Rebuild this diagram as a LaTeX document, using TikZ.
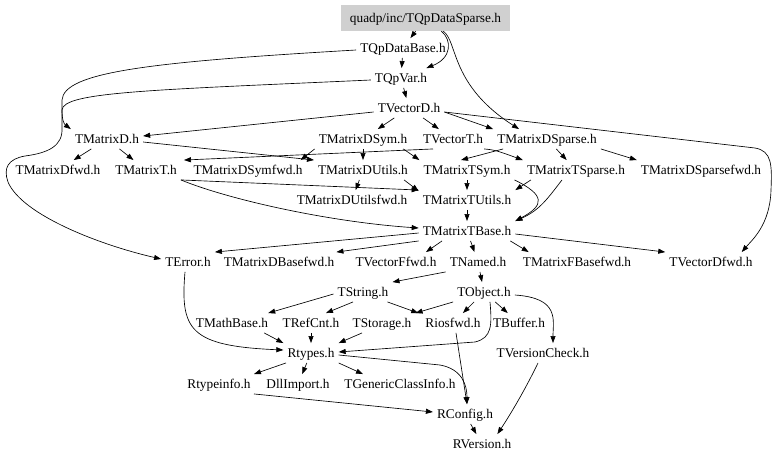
\documentclass[tikz,border=0pt]{standalone}
\usepackage{fontspec}
\setmainfont{Liberation Serif}
\usetikzlibrary{arrows.meta}
\definecolor{rootgray}{RGB}{208,208,208}
\begin{document}
\begin{tikzpicture}[x=1pt,y=-1pt,
  nd/.style={inner xsep=4pt, inner ysep=5.25pt, text height=9pt, text depth=0pt, font=\fontsize{13.3}{15}\selectfont},
  rootnd/.style={nd, fill=rootgray, minimum width=169pt, minimum height=26pt},
  edge/.style={draw=black, line width=0.65pt, -{Triangle[length=7pt,width=5pt]}}]
\useasboundingbox[fill=white] (0,0) rectangle (779,461);
% nodes
\node[rootnd] (root) at (425.5,18) {quadp/inc/TQpDataSparse.h};
\node[nd] (qpbase) at (403,48) {TQpDataBase.h};
\node[nd] (qpvar) at (401,78) {TQpVar.h};
\node[nd] (vecD) at (409,108) {TVectorD.h};
\node[nd] (matD) at (107,139) {TMatrixD.h};
\node[nd] (matDSym) at (363,139) {TMatrixDSym.h};
\node[nd] (vecT) at (453,139) {TVectorT.h};
\node[nd] (matDSp) at (547,139) {TMatrixDSparse.h};
\node[nd] (matDfwd) at (58,170) {TMatrixDfwd.h};
\node[nd] (matT) at (146,170) {TMatrixT.h};
\node[nd] (matDSymfwd) at (248,170) {TMatrixDSymfwd.h};
\node[nd] (matDUtils) at (363,170) {TMatrixDUtils.h};
\node[nd] (matTSym) at (467,170) {TMatrixTSym.h};
\node[nd] (matTSp) at (576,170) {TMatrixTSparse.h};
\node[nd] (matDSpfwd) at (701,170) {TMatrixDSparsefwd.h};
\node[nd] (matDUtilsfwd) at (352,200) {TMatrixDUtilsfwd.h};
\node[nd] (matTUtils) at (467,200) {TMatrixTUtils.h};
\node[nd] (matTBase) at (467,231) {TMatrixTBase.h};
\node[nd] (terror) at (188,262) {TError.h};
\node[nd] (matDBasefwd) at (279,262) {TMatrixDBasefwd.h};
\node[nd] (vecFfwd) at (396,262) {TVectorFfwd.h};
\node[nd] (tnamed) at (478,262) {TNamed.h};
\node[nd] (matFBasefwd) at (577,262) {TMatrixFBasefwd.h};
\node[nd] (vecDfwd) at (711,262) {TVectorDfwd.h};
\node[nd] (tstring) at (363,292) {TString.h};
\node[nd] (tobject) at (484,292) {TObject.h};
\node[nd] (tmathbase) at (232,323) {TMathBase.h};
\node[nd] (trefcnt) at (311,323) {TRefCnt.h};
\node[nd] (tstorage) at (382,323) {TStorage.h};
\node[nd] (riosfwd) at (453,323) {Riosfwd.h};
\node[nd] (tbuffer) at (519,323) {TBuffer.h};
\node[nd] (rtypes) at (311,353) {Rtypes.h};
\node[nd] (tversion) at (543,353) {TVersionCheck.h};
\node[nd] (rtypeinfo) at (219,384) {Rtypeinfo.h};
\node[nd] (dllimport) at (298,384) {DllImport.h};
\node[nd] (tgeneric) at (400,384) {TGenericClassInfo.h};
\node[nd] (rconfig) at (465,414) {RConfig.h};
\node[nd] (rversion) at (482,444) {RVersion.h};
% edges
\draw[edge] (root) -- (qpbase);
\draw[edge] (root) .. controls (452,40) and (452,58) .. (qpvar);
\draw[edge] (root) .. controls (458,42) and (450,85) .. ([xshift=-28pt]matDSp.north);
\draw[edge] (qpbase) -- (qpvar);
\draw[edge] ([yshift=-2pt]qpbase.west) .. controls (150,62) and (64,72) .. (62,100) -- (62,128) .. controls (63,146) and (48,153) .. (25,156) .. controls (8,159) and (3,168) .. (8,182) .. controls (22,215) and (100,245) .. ([yshift=3pt]terror.west);
\draw[edge] ([yshift=-2pt]qpvar.west) .. controls (150,90) and (63,92) .. (62,110) .. controls (62,120) and (64,124) .. (matD.north west);
\draw[edge] (qpvar) -- (vecD);
\draw[edge] ([yshift=-4pt]vecD.west) -- ([yshift=3pt]matD.east);
\draw[edge] (vecD) -- (matDSym);
\draw[edge] (vecD) -- (vecT);
\draw[edge] ([yshift=-4pt]vecD.east) -- (matDSp.north west);
\draw[edge] ([yshift=-4pt]vecD.east) -- (755,148) .. controls (772,151) and (772,165) .. (771,190) .. controls (770,225) and (752,240) .. ([xshift=-15pt]vecDfwd.north east);
\draw[edge] (matD) -- (matDfwd);
\draw[edge] (matD) -- (matT);
\draw[edge] ([yshift=-3pt]matD.east) -- (matDUtils.north west);
\draw[edge] (matDSym.south west) -- ([xshift=-6pt]matDSymfwd.north east);
\draw[edge] (matDSym) -- (matDUtils);
\draw[edge] ([xshift=-20pt]vecT.south) -- ([xshift=3pt]matT.north east);
\draw[edge] ([xshift=-8pt]matDSym.south east) -- (matTSym.north west);
\draw[edge] ([xshift=10pt]matDSp.south west) -- ([xshift=-6pt]matTSym.north);
\draw[edge] ([xshift=-3pt]vecT.south east) .. controls (495,150) .. (matTSp.north west);
\draw[edge] (matDSp) -- (matTSp);
\draw[edge] (matDSp.south east) -- (matDSpfwd.north west);
\draw[edge] (matT.south east) -- (matTUtils.north west);
\draw[edge] (matT.south east) .. controls (230,200) and (330,222) .. ([yshift=3pt]matTBase.west);
\draw[edge] (matDUtils) -- (matDUtilsfwd);
\draw[edge] ([xshift=-8pt]matDUtils.south east) -- ([yshift=-1pt]matTUtils.north west);
\draw[edge] (matTSym) -- (matTUtils);
\draw[edge] (matTSym.south east) .. controls (545,195) and (545,205) .. (matTBase.north east);
\draw[edge] ([xshift=-14pt]matTSp.south) .. controls (548,198) and (540,210) .. (matTBase.north east);
\draw[edge] ([xshift=8pt]matTSp.south west) -- (matTUtils.north east);
\draw[edge] (matTUtils) -- (matTBase);
\draw[edge] ([yshift=-2pt]matTBase.west) -- (terror.north east);
\draw[edge] (matTBase.south west) -- ([xshift=-2pt]matDBasefwd.north east);
\draw[edge] ([xshift=-25pt]matTBase.south) -- ([xshift=30pt]vecFfwd.north);
\draw[edge] (matTBase) -- (tnamed);
\draw[edge] ([xshift=-5pt]matTBase.south east) -- ([xshift=10pt]matFBasefwd.north west);
\draw[edge] ([yshift=-3pt]matTBase.east) -- (vecDfwd.north west);
\draw[edge] ([xshift=-3pt]terror.south) .. controls (180,330) and (190,346) .. ([yshift=3pt]rtypes.west);
\draw[edge] (tnamed.south west) -- (tstring.north east);
\draw[edge] (tnamed) -- (tobject);
\draw[edge] ([yshift=-2pt]tstring.west) -- ([xshift=-4pt]tmathbase.north east);
\draw[edge] ([xshift=-10pt]tstring.south) -- ([xshift=15pt]trefcnt.north);
\draw[edge] ([xshift=-5pt]tstring.south east) -- ([xshift=-3pt]riosfwd.north west);
\draw[edge] (tobject.south west) -- (tstorage.north east);
\draw[edge] (tobject) -- (riosfwd);
\draw[edge] (tobject) -- (tbuffer);
\draw[edge] ([xshift=6pt]tobject.south) .. controls (492,325) and (492,338) .. (475,342) -- ([yshift=1pt]rtypes.east);
\draw[edge] ([yshift=-3pt]tobject.east) .. controls (560,298) and (553,320) .. ([xshift=10pt]tversion.north);
\draw[edge] ([xshift=-8pt]tmathbase.south east) -- (rtypes.north west);
\draw[edge] (trefcnt) -- (rtypes);
\draw[edge] ([xshift=-20pt]tstorage.south) -- (rtypes.north east);
\draw[edge] ([xshift=3pt]riosfwd.south) -- ([xshift=2pt]rconfig.north);
\draw[edge] ([yshift=-2pt]rtypes.east) -- (440,365) .. controls (462,369) and (467,385) .. ([xshift=2pt]rconfig.north);
\draw[edge] ([xshift=-5pt]tversion.south) .. controls (525,390) and (510,415) .. ([xshift=-18pt]rversion.north east);
\draw[edge] ([xshift=-25pt]rtypes.south) -- ([xshift=35pt]rtypeinfo.north);
\draw[edge] (rtypes) -- (dllimport);
\draw[edge] (rtypes.south east) -- ([xshift=-37pt]tgeneric.north);
\draw[edge] ([xshift=35pt]rtypeinfo.south) -- ([yshift=2pt]rconfig.west);
\draw[edge] (rconfig) -- (rversion);
\end{tikzpicture}
\end{document}
